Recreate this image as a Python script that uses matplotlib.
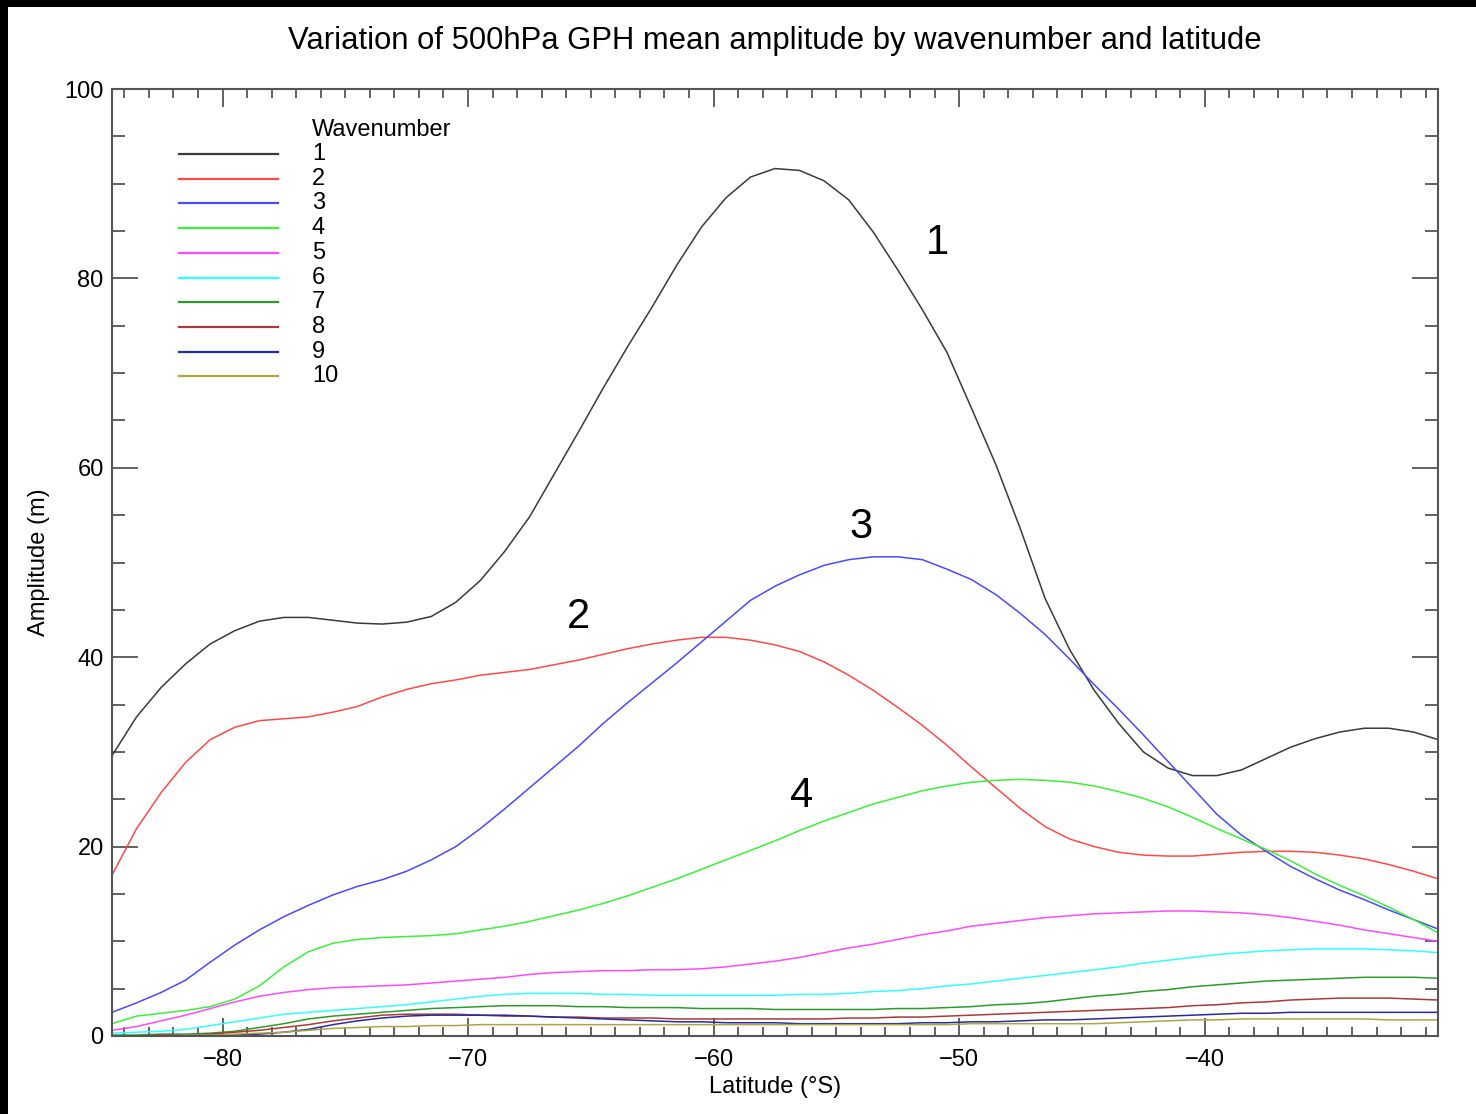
import numpy as np
import matplotlib
matplotlib.use("Agg")
import matplotlib.pyplot as plt
from matplotlib.patches import Rectangle
from matplotlib.lines import Line2D
from matplotlib.ticker import MultipleLocator

plt.rcParams['font.family'] = ['Liberation Sans', 'DejaVu Sans']

lat = [-84.5, -83.5, -82.5, -81.5, -80.5, -79.5, -78.5, -77.5, -76.5, -75.5,
       -74.5, -73.5, -72.5, -71.5, -70.5, -69.5, -68.5, -67.5, -66.5, -65.5,
       -64.5, -63.5, -62.5, -61.5, -60.5, -59.5, -58.5, -57.5, -56.5, -55.5,
       -54.5, -53.5, -52.5, -51.5, -50.5, -49.5, -48.5, -47.5, -46.5, -45.5,
       -44.5, -43.5, -42.5, -41.5, -40.5, -39.5, -38.5, -37.5, -36.5, -35.5,
       -34.5, -33.5, -32.5, -31.5, -30.5]

wave1 = [29.6, 33.7, 36.8, 39.3, 41.4, 42.8, 43.8, 44.2, 44.2, 43.9,
         43.6, 43.5, 43.7, 44.3, 45.8, 48.1, 51.2, 54.8, 59.3, 63.8,
         68.4, 72.8, 77.0, 81.4, 85.4, 88.5, 90.7, 91.6, 91.4, 90.3,
         88.3, 84.9, 80.9, 76.7, 72.2, 66.3, 60.3, 53.5, 46.2, 40.8,
         36.5, 33.0, 30.0, 28.3, 27.5, 27.5, 28.1, 29.3, 30.5, 31.4,
         32.1, 32.5, 32.5, 32.1, 31.3]
wave2 = [17.0, 21.9, 25.7, 28.9, 31.3, 32.6, 33.3, 33.5, 33.7, 34.2,
         34.8, 35.8, 36.6, 37.2, 37.6, 38.1, 38.4, 38.7, 39.2, 39.7,
         40.3, 40.9, 41.4, 41.8, 42.1, 42.1, 41.8, 41.3, 40.6, 39.5,
         38.1, 36.5, 34.7, 32.8, 30.7, 28.4, 26.2, 24.0, 22.1, 20.8,
         20.0, 19.4, 19.1, 19.0, 19.0, 19.2, 19.4, 19.5, 19.5, 19.4,
         19.1, 18.7, 18.1, 17.4, 16.6]
wave3 = [2.5, 3.5, 4.6, 5.9, 7.8, 9.6, 11.2, 12.6, 13.8, 14.9,
         15.8, 16.5, 17.4, 18.6, 20.0, 21.9, 24.0, 26.2, 28.4, 30.6,
         33.0, 35.2, 37.3, 39.4, 41.6, 43.8, 46.0, 47.5, 48.7, 49.7,
         50.3, 50.6, 50.6, 50.3, 49.3, 48.2, 46.6, 44.6, 42.4, 39.8,
         37.1, 34.5, 31.8, 29.0, 26.2, 23.4, 21.2, 19.5, 17.9, 16.6,
         15.4, 14.4, 13.3, 12.3, 11.3]
wave4 = [1.3, 2.1, 2.4, 2.7, 3.1, 3.9, 5.3, 7.3, 8.9, 9.8,
         10.2, 10.4, 10.5, 10.6, 10.8, 11.2, 11.6, 12.1, 12.7, 13.3,
         14.0, 14.8, 15.7, 16.6, 17.6, 18.6, 19.6, 20.6, 21.7, 22.7,
         23.6, 24.5, 25.2, 25.9, 26.4, 26.8, 27.0, 27.1, 27.0, 26.8,
         26.4, 25.8, 25.1, 24.2, 23.1, 21.9, 20.8, 19.7, 18.5, 17.1,
         15.9, 14.8, 13.6, 12.3, 10.9]
wave5 = [0.6, 1.0, 1.6, 2.2, 2.9, 3.6, 4.2, 4.6, 4.9, 5.1,
         5.2, 5.3, 5.4, 5.6, 5.8, 6.0, 6.2, 6.5, 6.7, 6.8,
         6.9, 6.9, 7.0, 7.0, 7.1, 7.3, 7.6, 7.9, 8.3, 8.8,
         9.3, 9.7, 10.2, 10.7, 11.1, 11.6, 11.9, 12.2, 12.5, 12.7,
         12.9, 13.0, 13.1, 13.2, 13.2, 13.1, 13.0, 12.8, 12.5, 12.1,
         11.7, 11.2, 10.8, 10.4, 10.0]
wave6 = [0.3, 0.4, 0.5, 0.7, 1.1, 1.5, 1.9, 2.3, 2.5, 2.7,
         2.9, 3.1, 3.3, 3.6, 3.9, 4.2, 4.4, 4.5, 4.5, 4.5,
         4.4, 4.4, 4.3, 4.3, 4.3, 4.3, 4.3, 4.3, 4.4, 4.4,
         4.5, 4.7, 4.8, 5.0, 5.3, 5.5, 5.8, 6.1, 6.4, 6.7,
         7.0, 7.3, 7.7, 8.0, 8.3, 8.6, 8.8, 9.0, 9.1, 9.2,
         9.2, 9.2, 9.1, 9.0, 8.8]
wave7 = [0.1, 0.1, 0.2, 0.2, 0.3, 0.5, 0.9, 1.3, 1.8, 2.1,
         2.3, 2.5, 2.7, 2.9, 3.0, 3.1, 3.2, 3.2, 3.2, 3.1,
         3.1, 3.0, 3.0, 3.0, 2.9, 2.9, 2.9, 2.8, 2.8, 2.8,
         2.8, 2.8, 2.9, 2.9, 3.0, 3.1, 3.3, 3.4, 3.6, 3.9,
         4.2, 4.4, 4.7, 4.9, 5.2, 5.4, 5.6, 5.8, 5.9, 6.0,
         6.1, 6.2, 6.2, 6.2, 6.1]
wave8 = [0.0, 0.0, 0.1, 0.1, 0.2, 0.4, 0.6, 0.9, 1.2, 1.6,
         1.9, 2.2, 2.3, 2.3, 2.3, 2.2, 2.1, 2.1, 2.0, 2.0,
         1.9, 1.9, 1.9, 1.8, 1.8, 1.8, 1.8, 1.8, 1.8, 1.8,
         1.9, 1.9, 2.0, 2.0, 2.1, 2.2, 2.3, 2.4, 2.5, 2.6,
         2.7, 2.8, 2.9, 3.0, 3.2, 3.3, 3.5, 3.6, 3.8, 3.9,
         4.0, 4.0, 4.0, 3.9, 3.8]
wave9 = [0.0, 0.0, 0.0, 0.1, 0.1, 0.1, 0.2, 0.4, 0.7, 1.2,
         1.6, 1.9, 2.1, 2.2, 2.2, 2.2, 2.2, 2.1, 2.0, 1.9,
         1.8, 1.7, 1.6, 1.5, 1.5, 1.4, 1.4, 1.4, 1.3, 1.3,
         1.3, 1.3, 1.3, 1.4, 1.4, 1.5, 1.5, 1.6, 1.7, 1.7,
         1.8, 1.9, 2.0, 2.1, 2.2, 2.3, 2.4, 2.4, 2.5, 2.5,
         2.5, 2.5, 2.5, 2.5, 2.5]
wave10 = [0.0, 0.0, 0.0, 0.1, 0.1, 0.2, 0.3, 0.4, 0.6, 0.8,
          0.9, 1.0, 1.0, 1.1, 1.1, 1.2, 1.2, 1.2, 1.2, 1.2,
          1.2, 1.2, 1.2, 1.2, 1.2, 1.2, 1.2, 1.2, 1.2, 1.2,
          1.2, 1.2, 1.2, 1.2, 1.2, 1.3, 1.3, 1.3, 1.3, 1.3,
          1.3, 1.4, 1.5, 1.6, 1.7, 1.7, 1.8, 1.8, 1.8, 1.8,
          1.8, 1.8, 1.7, 1.7, 1.7]

series = [wave1, wave2, wave3, wave4, wave5, wave6, wave7, wave8, wave9, wave10]
labels = ['1', '2', '3', '4', '5', '6', '7', '8', '9', '10']
colors = ['#3a3a3a', '#ff4a4a', '#4a4aff', '#3cf03c', '#ff4aff', '#33ffff',
          '#2e9a2e', '#a83a3a', '#2a2aa0', '#a8a848']

annot_text = ['1', '2', '3', '4']
annot_x = [-50.9, -65.5, -54.0, -56.4]
annot_y = [83.7, 44.2, 53.7, 25.3]

W, H = 1476, 1114
fig = plt.figure(figsize=(W / 100, H / 100), dpi=100)
fig.patch.set_facecolor('white')
# black strips on the left and top edges
fig.patches.append(Rectangle((0, 0), 8 / W, 1, transform=fig.transFigure,
                             facecolor='black', edgecolor='none', zorder=10))
fig.patches.append(Rectangle((0, 1 - 7 / H), 1, 7 / H, transform=fig.transFigure,
                             facecolor='black', edgecolor='none', zorder=10))

ax_l, ax_r, ax_t, ax_b = 112, 1438, 89, 1036
ax = fig.add_axes([ax_l / W, 1 - ax_b / H, (ax_r - ax_l) / W, (ax_b - ax_t) / H])

for s, c in zip(series, colors):
    ax.plot(lat, s, color=c, lw=1.1, solid_joinstyle='round')

for t, x, y in zip(annot_text, annot_x, annot_y):
    ax.text(x, y, t, fontsize=30, ha='center', va='center', color='black')

ax.set_xlim(-84.5, -30.5)
ax.set_ylim(0, 100)
ax.xaxis.set_major_locator(MultipleLocator(10))
ax.xaxis.set_minor_locator(MultipleLocator(1))
ax.yaxis.set_major_locator(MultipleLocator(20))
ax.yaxis.set_minor_locator(MultipleLocator(5))

gray = '#555555'
for sp in ax.spines.values():
    sp.set_color(gray)
    sp.set_linewidth(1.5)
ax.tick_params(axis='x', which='major', direction='in', top=True, bottom=True,
               length=13, width=1.3, color=gray, labelsize=17, pad=9)
ax.tick_params(axis='x', which='minor', direction='in', top=True, bottom=True,
               length=6.5, width=1.3, color=gray)
ax.tick_params(axis='y', which='major', direction='in', left=True, right=True,
               length=19, width=1.3, color=gray, labelsize=17, pad=6)
ax.tick_params(axis='y', which='minor', direction='in', left=True, right=True,
               length=9.5, width=1.3, color=gray)

ax.set_xlabel('Latitude (°S)', fontsize=17, labelpad=4)
ax.set_ylabel('Amplitude (m)', fontsize=17, labelpad=10)
ax.set_title('Variation of 500hPa GPH mean amplitude by wavenumber and latitude',
             fontsize=22.3, pad=29)

# legend
lx0 = (179 - ax_l) / (ax_r - ax_l)
lx1 = (278 - ax_l) / (ax_r - ax_l)
tx = (312 - ax_l) / (ax_r - ax_l)
y0 = (ax_b - 154) / (ax_b - ax_t)
dy = 24.7 / (ax_b - ax_t)
ax.text(tx, (ax_b - 130) / (ax_b - ax_t), 'Wavenumber', transform=ax.transAxes,
        fontsize=17, ha='left', va='center')
for i, (lab, c) in enumerate(zip(labels, colors)):
    yy = y0 - i * dy
    ax.add_line(Line2D([lx0, lx1], [yy, yy], transform=ax.transAxes, color=c, lw=1.6))
    ax.text(tx, yy, lab, transform=ax.transAxes, fontsize=17, ha='left', va='center')

fig.savefig('out.png', dpi=100, facecolor='white')
